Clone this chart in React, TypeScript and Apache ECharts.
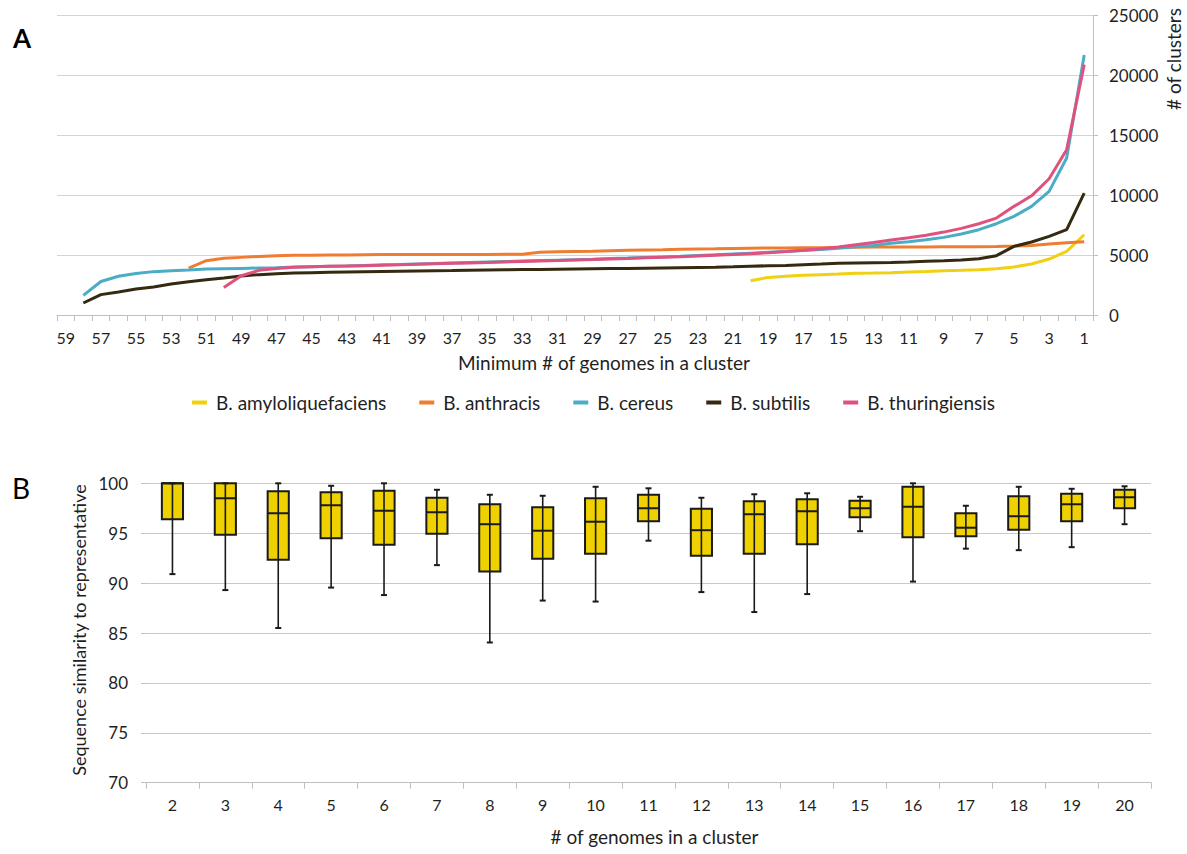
import React, { useEffect, useRef } from 'react';
import * as echarts from 'echarts';

const FONT = 'Lato, "Noto Sans", sans-serif';
const TEXT = '#1f1f1f';

// ---- Panel A ----
const topCategories = [
  '59', '58', '57', '56', '55', '54', '53', '52', '51', '50',
  '49', '48', '47', '46', '45', '44', '43', '42', '41', '40',
  '39', '38', '37', '36', '35', '34', '33', '32', '31', '30',
  '29', '28', '27', '26', '25', '24', '23', '22', '21', '20',
  '19', '18', '17', '16', '15', '14', '13', '12', '11', '10',
  '9', '8', '7', '6', '5', '4', '3', '2', '1',
];

const seriesNames = ['B. amyloliquefaciens', 'B. anthracis', 'B. cereus', 'B. subtilis', 'B. thuringiensis'];
const seriesColors = ['#F0D010', '#EF7D31', '#4BACC6', '#35290F', '#E0527E'];
// first category (min # of genomes) for which each series has a value
const seriesStart = [20, 52, 58, 58, 50];

const amyloliquefaciens = [
  2860, 3140, 3230, 3310, 3370, 3420, 3480, 3500, 3530, 3590,
  3640, 3700, 3730, 3780, 3870, 4010, 4260, 4670, 5310, 6700,
];
const anthracis = [
  3920, 4530, 4730, 4810, 4890, 4950, 4980, 4980, 5000, 5010,
  5030, 5050, 5050, 5050, 5050, 5050, 5060, 5060, 5070, 5080,
  5230, 5280, 5310, 5330, 5370, 5400, 5430, 5450, 5480, 5510,
  5530, 5560, 5580, 5590, 5600, 5610, 5610, 5640, 5660, 5670,
  5670, 5670, 5670, 5690, 5700, 5700, 5720, 5750, 5810, 5920,
  6030, 6120,
];
const cereus = [
  1640, 2800, 3230, 3470, 3620, 3700, 3760, 3830, 3860, 3890,
  3920, 3950, 4000, 4030, 4060, 4090, 4140, 4190, 4220, 4260,
  4300, 4340, 4380, 4420, 4460, 4500, 4540, 4580, 4620, 4660,
  4710, 4750, 4800, 4850, 4900, 4960, 5020, 5090, 5160, 5230,
  5300, 5380, 5470, 5580, 5700, 5810, 5980, 6120, 6290, 6480,
  6760, 7120, 7620, 8230, 9070, 10320, 13100, 21700,
];
const subtilis = [
  1000, 1700, 1920, 2170, 2340, 2590, 2780, 2950, 3090, 3250,
  3370, 3450, 3500, 3530, 3560, 3590, 3620, 3640, 3660, 3680,
  3700, 3710, 3730, 3750, 3770, 3790, 3800, 3820, 3840, 3860,
  3880, 3890, 3910, 3930, 3950, 3970, 3990, 4020, 4070, 4110,
  4140, 4200, 4250, 4310, 4340, 4370, 4390, 4420, 4480, 4530,
  4590, 4700, 4950, 5730, 6090, 6560, 7120, 10180,
];
const thuringiensis = [
  2300, 3280, 3730, 3890, 3980, 4030, 4060, 4090, 4120, 4150,
  4190, 4230, 4270, 4310, 4350, 4390, 4430, 4470, 4510, 4550,
  4590, 4630, 4680, 4720, 4770, 4820, 4870, 4930, 4990, 5050,
  5120, 5200, 5300, 5410, 5530, 5670, 5870, 6060, 6260, 6450,
  6650, 6920, 7230, 7620, 8090, 9070, 9950, 11370, 13800, 20900,
];
const seriesValues = [amyloliquefaciens, anthracis, cereus, subtilis, thuringiensis];

const topYTicks = { min: 0, max: 25000, interval: 5000 };

// ---- Panel B ----
const boxCategories = ['2', '3', '4', '5', '6', '7', '8', '9', '10', '11', '12', '13', '14', '15', '16', '17', '18', '19', '20'];
const boxMin = [90.9, 89.3, 85.5, 89.55, 88.8, 91.8, 84.05, 88.25, 88.15, 94.25, 89.1, 87.1, 88.9, 95.2, 90.15, 93.45, 93.3, 93.6, 95.9];
const boxQ1 = [96.4, 94.85, 92.35, 94.5, 93.85, 94.95, 91.15, 92.45, 92.95, 96.2, 92.75, 92.95, 93.9, 96.6, 94.6, 94.7, 95.35, 96.2, 97.5];
const boxMedian = [100, 98.5, 97.0, 97.8, 97.25, 97.1, 95.9, 95.25, 96.15, 97.5, 95.3, 96.9, 97.2, 97.5, 97.65, 95.55, 96.7, 97.9, 98.6];
const boxQ3 = [100, 100, 99.2, 99.1, 99.25, 98.55, 97.9, 97.6, 98.5, 98.85, 97.45, 98.2, 98.4, 98.25, 99.65, 97.0, 98.7, 98.95, 99.35];
const boxMax = [100, 100, 100, 99.75, 100, 99.35, 98.85, 98.75, 99.65, 99.5, 98.55, 98.9, 99.0, 98.65, 100, 97.75, 99.65, 99.45, 99.7];

const bottomYTicks = { min: 70, max: 100, interval: 5 };

function buildOption() {
  const lineSeries = seriesNames.map((name, k) => ({
    name,
    type: 'line',
    xAxisIndex: 0,
    yAxisIndex: 0,
    symbol: 'none',
    showSymbol: false,
    color: seriesColors[k],
    lineStyle: { width: 3, color: seriesColors[k] },
    data: seriesValues[k].map((v, i) => [String(seriesStart[k] - i), v]),
  }));

  const boxSeries = {
    type: 'custom',
    xAxisIndex: 1,
    yAxisIndex: 1,
    encode: { x: 0, y: [1, 2, 3, 4, 5] },
    data: boxCategories.map((_, i) => [i, boxMin[i], boxQ1[i], boxMedian[i], boxQ3[i], boxMax[i]]),
    renderItem: (params: any, api: any) => {
      const i = api.value(0);
      const band = api.size([1, 0])[0];
      const bw = band * 0.4;
      const pMin = api.coord([i, api.value(1)]);
      const pQ1 = api.coord([i, api.value(2)]);
      const pMed = api.coord([i, api.value(3)]);
      const pQ3 = api.coord([i, api.value(4)]);
      const pMax = api.coord([i, api.value(5)]);
      const cx = pMin[0];
      const stroke = '#1a1a1a';
      const cap = 3;
      return {
        type: 'group',
        children: [
          {
            type: 'rect',
            shape: { x: cx - bw / 2, y: pQ3[1], width: bw, height: pQ1[1] - pQ3[1] },
            style: { fill: '#EFD000', stroke, lineWidth: 2 },
          },
          {
            type: 'line',
            shape: { x1: cx, y1: pMax[1], x2: cx, y2: pMin[1] },
            style: { stroke, lineWidth: 1.6 },
          },
          {
            type: 'line',
            shape: { x1: cx - bw / 2, y1: pMed[1], x2: cx + bw / 2, y2: pMed[1] },
            style: { stroke, lineWidth: 2 },
          },
          {
            type: 'line',
            shape: { x1: cx - cap, y1: pMax[1], x2: cx + cap, y2: pMax[1] },
            style: { stroke, lineWidth: 2 },
          },
          {
            type: 'line',
            shape: { x1: cx - cap, y1: pMin[1], x2: cx + cap, y2: pMin[1] },
            style: { stroke, lineWidth: 2 },
          },
        ],
      };
    },
  };

  return {
    animation: false,
    backgroundColor: '#ffffff',
    textStyle: { fontFamily: FONT, color: TEXT },
    grid: [
      { left: 57, right: 94, top: 15.5, height: 299.5 },
      { left: 146, right: 36, top: 483.3, height: 299.4 },
    ],
    legend: {
      data: seriesNames,
      top: 388,
      left: 'center',
      icon: 'rect',
      itemWidth: 15,
      itemHeight: 4,
      itemGap: 33,
      textStyle: { fontFamily: FONT, fontSize: 19, color: TEXT, padding: [0, 0, 0, 4] },
    },
    xAxis: [
      {
        type: 'category',
        gridIndex: 0,
        data: topCategories,
        boundaryGap: true,
        axisLine: { lineStyle: { color: '#BFBFBF', width: 1 } },
        axisTick: { show: true, interval: 0, length: 6, lineStyle: { color: '#BFBFBF' } },
        axisLabel: { interval: 1, fontSize: 16, color: TEXT, margin: 14, fontFamily: FONT },
        splitLine: { show: false },
        name: 'Minimum # of genomes in a cluster',
        nameLocation: 'middle',
        nameGap: 38,
        nameTextStyle: { fontSize: 19, color: TEXT, fontFamily: FONT, padding: [0, 0, 0, 58] },
      },
      {
        type: 'category',
        gridIndex: 1,
        data: boxCategories,
        boundaryGap: true,
        axisLine: { lineStyle: { color: '#BFBFBF', width: 1 } },
        axisTick: { show: true, interval: 0, length: 6, lineStyle: { color: '#BFBFBF' } },
        axisLabel: { interval: 0, fontSize: 16, color: TEXT, margin: 14, fontFamily: FONT },
        splitLine: { show: false },
        name: '# of genomes in a cluster',
        nameLocation: 'middle',
        nameGap: 44,
        nameTextStyle: { fontSize: 19, color: TEXT, fontFamily: FONT, padding: [0, 0, 0, 12] },
      },
    ],
    yAxis: [
      {
        type: 'value',
        gridIndex: 0,
        position: 'right',
        min: topYTicks.min,
        max: topYTicks.max,
        interval: topYTicks.interval,
        axisLine: { show: true, lineStyle: { color: '#BFBFBF' } },
        axisTick: { show: true, length: 5, lineStyle: { color: '#BFBFBF' } },
        axisLabel: {
          margin: 16, fontSize: 17, color: TEXT, fontFamily: FONT,
          formatter: (v: number) => String(v),
        },
        splitLine: { show: true, lineStyle: { color: '#D3D3D3', width: 1 } },
      },
      {
        type: 'value',
        gridIndex: 1,
        min: bottomYTicks.min,
        max: bottomYTicks.max,
        interval: bottomYTicks.interval,
        axisLine: { show: false },
        axisTick: { show: true, length: 5, lineStyle: { color: '#BFBFBF' } },
        axisLabel: { margin: 18, fontSize: 17, color: TEXT, fontFamily: FONT },
        splitLine: { show: true, lineStyle: { color: '#C8C8C8', width: 1 } },
      },
    ],
    graphic: [
      {
        type: 'text',
        left: 13,
        top: 25,
        style: { text: 'A', fontSize: 26, fontWeight: 'bold', fill: '#000', fontFamily: FONT },
      },
      {
        type: 'text',
        left: 12,
        top: 474,
        style: { text: 'B', fontSize: 28, fill: '#000', fontFamily: FONT },
      },
      {
        type: 'text',
        x: 1173,
        y: 59,
        rotation: Math.PI / 2,
        style: {
          text: '# of clusters', fontSize: 19, fill: TEXT, fontFamily: FONT,
          align: 'center', verticalAlign: 'middle',
        },
      },
      {
        type: 'text',
        x: 79,
        y: 630,
        rotation: Math.PI / 2,
        style: {
          text: 'Sequence similarity to representative', fontSize: 18, fill: TEXT, fontFamily: FONT,
          align: 'center', verticalAlign: 'middle',
        },
      },
    ],
    series: [...lineSeries, boxSeries],
  };
}

export default function App() {
  const ref = useRef<HTMLDivElement>(null);
  useEffect(() => {
    if (!ref.current) return;
    const chart = echarts.init(ref.current, null, { renderer: 'svg' });
    chart.setOption(buildOption() as any);
    return () => {
      chart.dispose();
    };
  }, []);
  return (
    <div
      ref={ref}
      style={{ position: 'absolute', left: 0, top: 0, width: 1187, height: 854, background: '#fff' }}
    />
  );
}
